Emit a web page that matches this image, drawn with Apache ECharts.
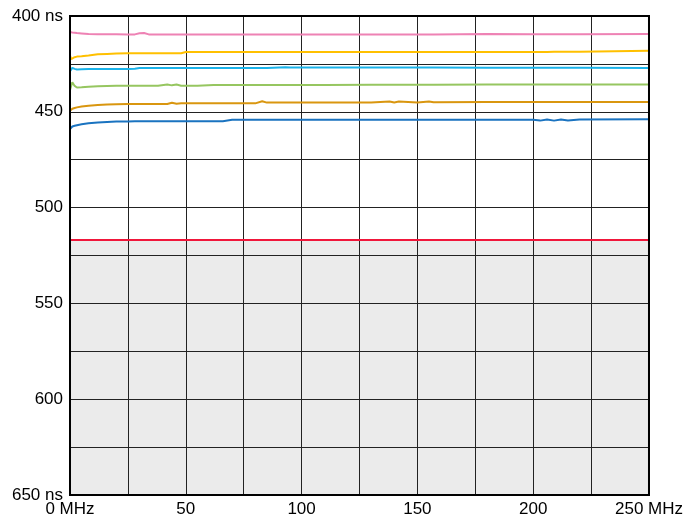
<!DOCTYPE html>
<html>
<head>
<meta charset="utf-8">
<script src="https://cdn.jsdelivr.net/npm/echarts@6/dist/echarts.min.js"></script>
<style>
html,body{margin:0;padding:0;background:#fff;}
#chart{width:686px;height:519px;}
</style>
</head>
<body>
<div id="chart"></div>
<script>
// Frequency sample points (MHz)
const freqMHz = [0, 0.5, 1, 2, 3, 5, 8, 12, 16, 20, 25, 28, 30, 32, 34, 38, 42, 44, 46, 48, 50, 55, 62, 66, 70, 80, 83, 85, 93, 95, 110, 130, 138, 140, 142, 150, 155, 157, 180, 200, 203, 206, 209, 212, 215, 220, 250];

// Series values (ns)
const pinkNs   = [408.4,408.5,408.6,408.7,408.9,409.1,409.4,409.5,409.5,409.5,409.6,409.6,409.0,408.9,409.6,409.6,409.6,409.6,409.6,409.6,409.6,409.7,409.7,409.7,409.7,409.7,409.7,409.7,409.7,409.7,409.7,409.7,409.7,409.7,409.7,409.6,409.6,409.6,409.4,409.5,409.5,409.5,409.5,409.5,409.5,409.5,409.4];
const yellowNs = [420.6,422.5,423.5,421.5,421.2,421.0,420.6,420.0,419.8,419.6,419.4,419.4,419.4,419.4,419.4,419.4,419.4,419.4,419.4,419.4,418.8,418.8,418.8,418.8,418.8,418.8,418.8,418.8,418.8,418.8,418.8,418.8,418.8,418.8,418.8,418.8,418.8,418.8,418.8,418.8,418.8,418.8,418.7,418.7,418.7,418.6,418.2];
const cyanNs   = [428.8,427.8,427.1,427.6,427.9,427.8,427.7,427.6,427.6,427.6,427.6,427.5,427.2,427.2,427.2,427.2,427.2,427.2,427.2,427.2,427.2,427.2,427.2,427.2,427.2,427.2,427.2,427.2,426.8,426.9,426.9,426.9,426.9,426.9,426.9,426.9,426.9,426.9,427.0,427.0,427.0,427.0,427.0,427.0,427.0,427.0,427.2];
const greenNs  = [438.6,436.5,434.6,436.5,437.3,437.2,436.9,436.7,436.5,436.4,436.4,436.4,436.4,436.4,436.4,436.4,435.7,436.2,435.8,436.4,436.4,436.4,436.0,436.0,436.0,436.0,436.0,436.0,436.0,436.0,436.0,435.9,435.9,435.9,435.9,435.9,435.9,435.9,435.8,435.8,435.8,435.8,435.8,435.8,435.8,435.8,435.8];
const orangeNs = [449.5,448.8,448.4,448.0,447.7,447.2,446.8,446.5,446.2,446.0,445.9,445.9,445.9,445.9,445.9,445.9,445.9,445.3,445.8,445.6,445.6,445.6,445.6,445.6,445.6,445.6,444.5,445.2,445.2,445.2,445.2,445.2,444.6,445.1,444.6,445.1,444.6,445.0,444.9,444.9,444.9,444.9,444.9,444.9,444.9,444.9,444.9];
const blueNs   = [459.0,458.0,457.7,457.3,457.0,456.5,456.0,455.6,455.3,455.1,455.0,454.9,454.9,454.9,454.9,454.9,454.9,454.9,454.9,454.9,454.9,454.9,454.9,454.9,454.2,454.2,454.2,454.2,454.2,454.2,454.2,454.2,454.2,454.2,454.2,454.2,454.2,454.2,454.2,454.2,454.6,454.0,454.6,454.0,454.5,454.0,453.9];

const limitNs = 517;          // red limit line
const shadeRange = [517, 650]; // shaded region

const yMin = 400, yMax = 650, yStep = 25;
const xMin = 0, xMax = 250, xStep = 25;

const seriesDefs = [
  {name: 'pink', data: pinkNs, color: '#ee82b4'},
  {name: 'yellow', data: yellowNs, color: '#ffc000'},
  {name: 'cyan', data: cyanNs, color: '#1ab3ea'},
  {name: 'green', data: greenNs, color: '#96c660'},
  {name: 'orange', data: orangeNs, color: '#d9960f'},
  {name: 'blue', data: blueNs, color: '#1a73c0'}
];

const font = 'Liberation Sans, Arial, sans-serif';

const series = seriesDefs.map(s => ({
  name: s.name,
  type: 'line',
  data: freqMHz.map((f, i) => [f, s.data[i]]),
  showSymbol: false,
  symbol: 'none',
  z: 3,
  lineStyle: {color: s.color, width: 2},
  itemStyle: {color: s.color},
  silent: true
}));

series.unshift({
  type: 'line',
  data: [],
  silent: true,
  z: 1,
  markArea: {
    silent: true,
    itemStyle: {color: '#ebebeb'},
    data: [[{yAxis: shadeRange[0]}, {yAxis: shadeRange[1]}]]
  }
});

series.push({
  type: 'line',
  data: [],
  silent: true,
  z: 4,
  markLine: {
    silent: true,
    symbol: 'none',
    label: {show: false},
    lineStyle: {color: '#f0163a', width: 2, type: 'solid'},
    data: [{yAxis: limitNs}]
  }
});

const chart = echarts.init(document.getElementById('chart'), null, {renderer: 'canvas'});
chart.setOption({
  animation: false,
  backgroundColor: '#fff',
  grid: {left: 70, right: 37, top: 16, bottom: 24, show: true, borderColor: '#000', borderWidth: 2, z: 6, backgroundColor: 'transparent'},
  xAxis: {
    type: 'value', min: xMin, max: xMax, interval: xStep, z: 2,
    axisLine: {show: false}, axisTick: {show: false},
    splitLine: {show: true, lineStyle: {color: '#222', width: 1}},
    axisLabel: {
      color: '#000', fontFamily: font, fontSize: 17, margin: 6,
      formatter: v => v === 0 ? '0 MHz' : (v === xMax ? v + ' MHz' : (v % 50 === 0 ? String(v) : ''))
    }
  },
  yAxis: {
    type: 'value', min: yMin, max: yMax, interval: yStep, inverse: true, z: 2,
    axisLine: {show: false}, axisTick: {show: false},
    splitLine: {show: true, lineStyle: {color: '#222', width: 1}},
    axisLabel: {
      color: '#000', fontFamily: font, fontSize: 17, margin: 7,
      formatter: v => (v === yMin || v === yMax) ? v + ' ns' : (v % 50 === 0 ? String(v) : '')
    }
  },
  series: series
});
</script>
</body>
</html>
